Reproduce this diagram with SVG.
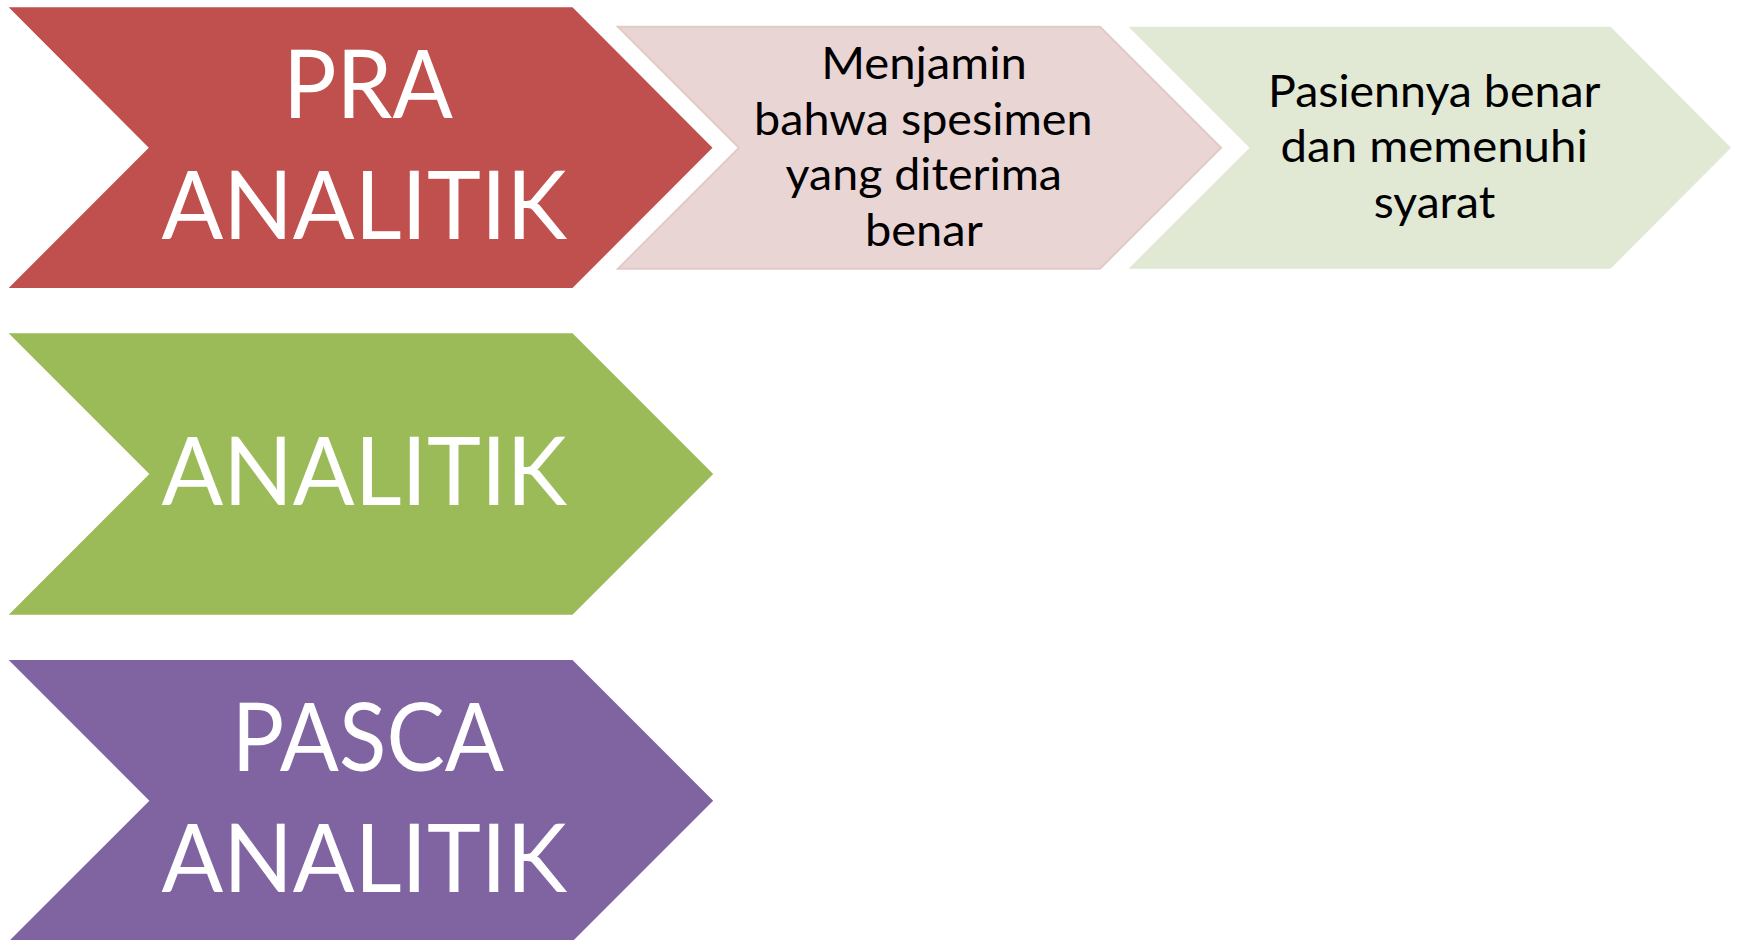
<svg xmlns="http://www.w3.org/2000/svg" width="1739" height="940" viewBox="0 0 1739 940">
<style>
.big{font-family:Lato,"Open Sans",sans-serif;font-size:95px;fill:#ffffff;text-anchor:middle}
.small{font-family:Lato,"Open Sans",sans-serif;font-size:44px;fill:#000000;text-anchor:middle}
</style>
<rect width="1739" height="940" fill="#ffffff"/>
<g id="pra">
<polygon points="8.7,7.3 572.5,7.3 712.5,147.7 572.5,288 8.7,288 148.8,147.7" fill="#C0504D"/>
<text class="big" x="368" y="118.3" textLength="170" lengthAdjust="spacingAndGlyphs">PRA</text>
<text class="big" x="364.2" y="239.3" textLength="405.6" lengthAdjust="spacingAndGlyphs">ANALITIK</text>
</g>
<g id="menjamin">
<polygon points="618,26.7 1100,26.7 1221,147.7 1100,268.7 618,268.7 739,147.7" fill="#EAD5D5" stroke="#E4C9C9" stroke-width="2"/>
<text class="small" x="924" y="79.3" textLength="205.7" lengthAdjust="spacingAndGlyphs">Menjamin</text>
<text class="small" x="923.3" y="134.5" textLength="338.5" lengthAdjust="spacingAndGlyphs">bahwa spesimen</text>
<text class="small" x="923.8" y="190" textLength="276.4" lengthAdjust="spacingAndGlyphs">yang diterima</text>
<text class="small" x="923.9" y="245.5" textLength="117.7" lengthAdjust="spacingAndGlyphs">benar</text>
</g>
<g id="pasien">
<polygon points="1128.5,26.7 1610.6,26.7 1731,147.7 1610.6,268.7 1128.5,268.7 1249.5,147.7" fill="#E1E9D5"/>
<text class="small" x="1434.2" y="106.7" textLength="332.4" lengthAdjust="spacingAndGlyphs">Pasiennya benar</text>
<text class="small" x="1434.2" y="162.3" textLength="307.3" lengthAdjust="spacingAndGlyphs">dan memenuhi</text>
<text class="small" x="1434.5" y="218" textLength="121.5" lengthAdjust="spacingAndGlyphs">syarat</text>
</g>
<g id="analitik">
<polygon points="8.7,333.3 572.5,333.3 713.2,474 572.5,614.7 8.7,614.7 149.4,474" fill="#9BBB59"/>
<text class="big" x="364.2" y="505.3" textLength="405.6" lengthAdjust="spacingAndGlyphs">ANALITIK</text>
</g>
<g id="pasca">
<polygon points="8.7,660 572.5,660 713.2,800.7 572.5,941.4 8.7,941.4 149.4,800.7" fill="#8064A2"/>
<text class="big" x="367.9" y="770.5" textLength="272.3" lengthAdjust="spacingAndGlyphs">PASCA</text>
<text class="big" x="364.2" y="891.5" textLength="405.6" lengthAdjust="spacingAndGlyphs">ANALITIK</text>
</g>
<g id="connectors"/>
</svg>
